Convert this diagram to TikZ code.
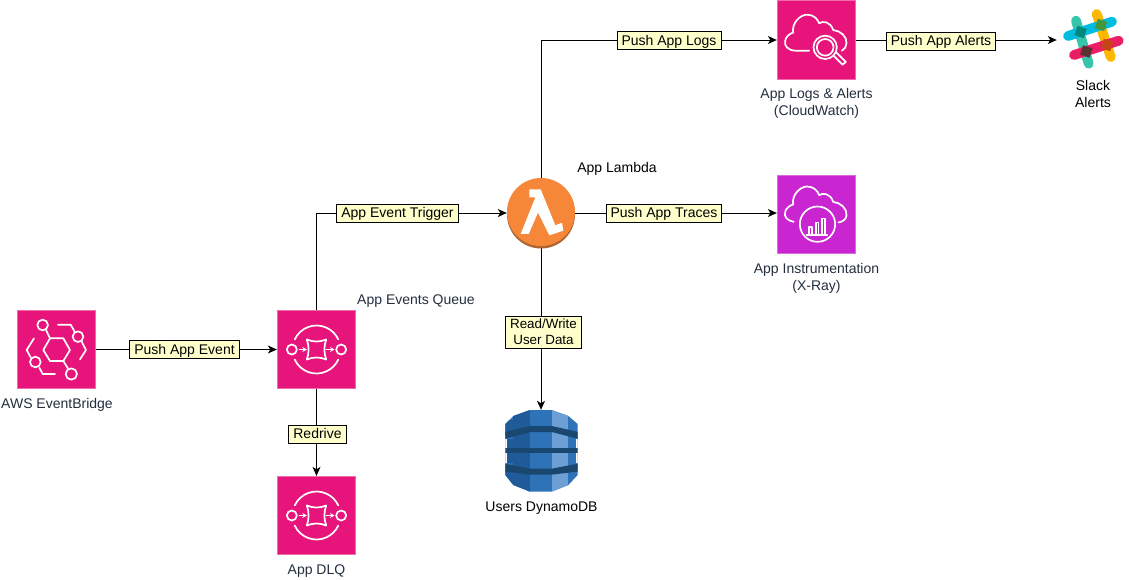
\documentclass[tikz,border=0pt]{standalone}
\usepackage{fontspec}
\setmainfont{Liberation Sans}
\usetikzlibrary{arrows.meta}
\definecolor{awspink}{HTML}{E7157B}
\definecolor{awspinkedge}{HTML}{F06BA8}
\definecolor{awspurple}{HTML}{C925D1}
\definecolor{awspurpleedge}{HTML}{DB6BE0}
\definecolor{awstext}{HTML}{232F3E}
\definecolor{lblfill}{HTML}{FFFFCC}
\tikzset{
  x=1pt,y=-1pt,
  every node/.style={font=\fontsize{14}{17}\selectfont},
  awsbox/.style={draw=awspinkedge,fill=awspink,line width=.8pt,minimum size=78.5pt,inner sep=0pt},
  xraybox/.style={awsbox,draw=awspurpleedge,fill=awspurple},
  captext/.style={align=center,text=awstext,inner sep=0pt},
  blacktext/.style={align=center,text=black,inner sep=0pt},
  link/.style={draw=black,line width=1pt,-{Stealth[length=9pt,width=8pt,inset=2.5pt]}},
  lbl/.style={draw=black,fill=lblfill,line width=.9pt,inner sep=0pt,inner xsep=4.5pt,align=center,text=black},
  lblone/.style={lbl,minimum height=18pt,text height=12pt,text depth=3pt},
  ico/.style={draw=white,line width=1.7pt,fill=none,line cap=round,line join=round},
  zoomed/.style={x=.3333pt,y=-.3333pt},
}
\newcommand{\sqsicon}[1]{%
  \begin{scope}[shift={(#1.center)},zoomed]
    \draw[ico] (-74,0) circle[radius=15];
    \draw[ico] (74,0) circle[radius=15];
    \draw[ico] (155:24pt) arc[start angle=155,end angle=25,radius=24pt];
    \draw[ico] (205:24pt) arc[start angle=205,end angle=335,radius=24pt];
    \draw[ico] (-29,-30) .. controls (-10,-22) and (10,-22) .. (29,-30)
      .. controls (22,-10) and (22,10) .. (29,30)
      .. controls (10,22) and (-10,22) .. (-29,30)
      .. controls (-22,10) and (-22,-10) .. cycle;
    \draw[ico,-{Stealth[length=4.5pt,width=5pt]},line cap=butt] (-54,0) -- (-29,0);
    \draw[ico,-{Stealth[length=4.5pt,width=5pt]},line cap=butt] (29,0) -- (54,0);
  \end{scope}}
\newcommand{\cloudline}{%
  (-22,32) -- (-62,32) .. controls (-85,32) and (-98,18) .. (-94,2)
  .. controls (-92,-10) and (-80,-20) .. (-70,-22)
  .. controls (-75,-50) and (-50,-76) .. (-28,-76)
  .. controls (-8,-76) and (4,-62) .. (8,-50)
  .. controls (18,-58) and (42,-56) .. (50,-30)
  .. controls (72,-28) and (92,-10) .. (90,10)
  .. controls (90,20) and (84,28) .. (76,32)}
\begin{document}
\begin{tikzpicture}
\useasboundingbox (0,0) rectangle (1129,579);
\fill[white] (0,0) rectangle (1129,579);
% service boxes
\node[awsbox] (eb) at (56.5,349.5) {};
\node[awsbox] (sqs) at (316.5,349.5) {};
\node[awsbox] (dlq) at (316.5,515.5) {};
\node[awsbox] (cw) at (816.5,40) {};
\node[xraybox] (xray) at (816.5,214.5) {};
\node[circle,minimum size=68pt,inner sep=0pt] (lam) at (541,213) {};
\node[minimum width=72pt,minimum height=82pt,inner sep=0pt] (ddb) at (541,451) {};
\node[minimum width=72pt,minimum height=70pt,inner sep=0pt] (slack) at (1093,40) {};
% connectors
\draw[link] (eb) -- (sqs);
\draw[link] (sqs) -- (dlq);
\draw[link] (sqs.north) |- (lam.west);
\draw[link] (lam.east) -- (lam.east -| xray.west);
\draw[link] (lam.south) -- (ddb.north);
\draw[link] (lam.north) |- (cw.west);
\draw[link] (cw.east) -- (slack.west);
% edge labels
\node[lblone] (l1) at (184.5,349.5) {Push App Event};
\node[lblone] (l2) at (317.5,434) {Redrive};
\node[lblone] (l3) at (397.5,213) {App Event Trigger};
\node[lblone] (l4) at (664,213) {Push App Traces};
\node[lbl,minimum height=32pt,font=\fontsize{13.4}{16}\selectfont] (l5) at (543.5,332) {Read/Write\\User Data};
\node[lblone] (l6) at (669,40.5) {Push App Logs};
\node[lblone] (l7) at (941,41) {Push App Alerts};
% captions
\node[captext] (t1) at (57,405) {AWS EventBridge};
\node[captext] (t2) at (416,301) {App Events Queue};
\node[captext] (t3) at (316.5,571) {App DLQ};
\node[captext] (t4) at (816.5,103.5) {App Logs \& Alerts\\(CloudWatch)};
\node[captext] (t5) at (816.5,278.5) {App Instrumentation\\(X-Ray)};
\node[blacktext] (t6) at (617,169) {App Lambda};
\node[blacktext] (t7) at (541.5,508) {Users DynamoDB};
\node[blacktext] (t8) at (1093,93.5) {Slack\\Alerts};
% EventBridge icon
\begin{scope}[shift={(0,300)},zoomed]
  \draw[ico] (130,150) -- (150,115) -- (190,115) -- (210,150) -- (190,183) -- (150,183) -- cycle;
  \draw[ico] (128,75) circle[radius=16];
  \draw[ico] (234,110) circle[radius=16];
  \draw[ico] (106,186) circle[radius=16];
  \draw[ico] (214,222) circle[radius=17];
  \draw[ico] (174,74) -- (212,74) -- (224,95);
  \draw[ico] (245,125) -- (258,150) -- (240,178);
  \draw[ico] (102,115) -- (80,150) -- (92,172);
  \draw[ico] (118,203) -- (128,222) -- (165,222);
  \draw[ico] (138,90) -- (150,115);
  \draw[ico] (190,183) -- (205,207);
\end{scope}
\sqsicon{sqs}
\sqsicon{dlq}
% CloudWatch icon
\begin{scope}[shift={(cw.center)},zoomed]
  \draw[ico] \cloudline;
  \draw[ico] (26,22) circle[radius=35];
  \draw[ico] (26,22) circle[radius=25];
  \draw[ico] (50,46) -- (78,74) -- (88,66) -- (60,38);
\end{scope}
% X-Ray icon
\begin{scope}[shift={(xray.center)},zoomed]
  \draw[ico] (-68,22) .. controls (-88,18) and (-98,8) .. (-94,-8)
  .. controls (-92,-18) and (-80,-28) .. (-70,-30)
  .. controls (-75,-58) and (-50,-84) .. (-28,-84)
  .. controls (-8,-84) and (4,-70) .. (8,-58)
  .. controls (18,-66) and (42,-64) .. (50,-38)
  .. controls (72,-36) and (92,-18) .. (90,2)
  .. controls (90,12) and (80,22) .. (66,24);
  \draw[ico] (3,29) circle[radius=53];
  \draw[ico] (-30,62) -- (32,62);
  \draw[ico,line cap=butt] (-22,62) -- (-22,38) -- (-14,38) -- (-14,62);
  \draw[ico,line cap=butt] (-2,62) -- (-2,24) -- (6,24) -- (6,62);
  \draw[ico,line cap=butt] (17,62) -- (17,12) -- (25,12) -- (25,62);
\end{scope}
% Lambda icon
\fill[fill={rgb,255:red,176;green,100;blue,48}] (lam.center) ++(0,1.5) circle[radius=34];
\fill[fill={rgb,255:red,246;green,134;blue,56}] (lam.center) ++(0,-1) circle[radius=34];
\begin{scope}[shift={(480,160)},zoomed]
  \fill[white] (148,88) -- (182,88) -- (226,196) -- (246,188) -- (250,212) -- (208,226) -- (174,158) -- (146,222) -- (122,222) -- (166,112) -- (148,112) -- cycle;
\end{scope}
% DynamoDB icon
\begin{scope}[shift={(480,400)},zoomed]
  \definecolor{dbmid}{HTML}{2E73B8}
  \definecolor{dbleft}{HTML}{205B99}
  \definecolor{dbright}{HTML}{6CA0D4}
  \definecolor{dbband}{HTML}{1A476F}
  \begin{scope}
    \clip (150,30) -- (215,30) -- (265,48) -- (293,72) -- (293,225) -- (265,255) -- (215,275) -- (150,275) -- (100,255) -- (76,225) -- (76,72) -- (100,48) -- cycle;
    \fill[dbmid] (60,20) rectangle (310,290);
    \fill[dbleft] (100,20) rectangle (150,290);
    \fill[dbright] (215,20) rectangle (265,290);
    \fill[white] (60,118) rectangle (80,190);
    \fill[white] (289,118) rectangle (310,190);
    \fill[dbleft] (80,118) rectangle (100,190);
    \fill[dbleft] (76,60) rectangle (100,104);
    \fill[dbleft] (76,210) rectangle (100,290);
    \fill[dbband] (70,97) -- (150,78) -- (215,78) -- (300,97) -- (300,118) -- (215,96) -- (150,96) -- (70,118) -- cycle;
    \fill[dbband] (70,145) rectangle (300,160);
    \fill[dbband] (70,190) -- (150,206) -- (215,206) -- (300,190) -- (300,214) -- (215,224) -- (150,224) -- (70,214) -- cycle;
  \end{scope}
\end{scope}
% Slack icon
\begin{scope}[line width=9.8pt,line cap=round]
  \draw[color={rgb,255:red,54;green,197;blue,171}] (1076,20.7) -- (1088.7,63.7);
  \draw[color={rgb,255:red,255;green,183;blue,0}] (1096.7,14) -- (1110.7,57);
  \draw[color={rgb,255:red,0;green,189;blue,224}] (1068,36) -- (1112,21.7);
  \draw[color={rgb,255:red,233;green,30;blue,99}] (1074,55) -- (1118.7,40.7);
\end{scope}
\fill[color={rgb,255:red,0;green,137;blue,123},rotate around={-18:(1080.6,32)}] (1075.7,27.1) rectangle (1085.5,36.9);
\fill[color={rgb,255:red,72;green,150;blue,60},rotate around={-18:(1101,25)}] (1096.1,20.1) rectangle (1105.9,29.9);
\fill[color={rgb,255:red,90;green,50;blue,50},rotate around={-18:(1086.3,51.5)}] (1081.4,46.6) rectangle (1091.2,56.4);
\fill[color={rgb,255:red,196;green,70;blue,20},rotate around={-18:(1107,45)}] (1102.1,40.1) rectangle (1111.9,49.9);
\end{tikzpicture}
\end{document}
